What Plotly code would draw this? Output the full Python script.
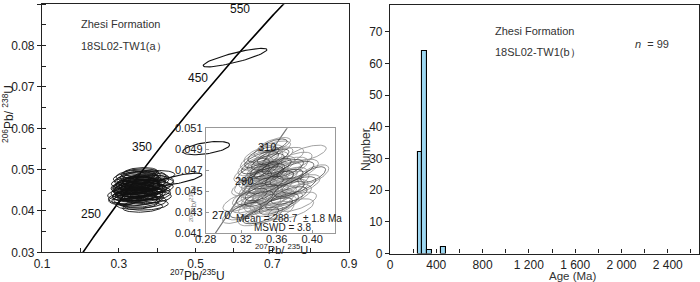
import numpy as np
import plotly.graph_objects as go

# ---------------- data ----------------
# U decay constants (1/yr) used for the concordia curve
L238 = 1.55125e-10
L235 = 9.8485e-10
concordia_ages_ma = np.arange(150, 620, 2)
main_age_labels = [250, 350, 450, 550]
inset_age_labels = [270, 290, 310]

# main cluster of analyses: 207Pb/235U, 206Pb/238U, half-widths
clu_x = [0.348, 0.353, 0.343, 0.359, 0.338, 0.364, 0.346, 0.355, 0.332, 0.369,
         0.350, 0.341, 0.360, 0.329, 0.374, 0.352, 0.345, 0.367, 0.325, 0.320,
         0.362, 0.371, 0.348, 0.381, 0.394, 0.385, 0.355, 0.336, 0.376, 0.342,
         0.357, 0.349, 0.339, 0.366, 0.353, 0.334, 0.378, 0.359, 0.346, 0.371,
         0.317, 0.401, 0.362, 0.350, 0.343, 0.360, 0.352, 0.383, 0.340, 0.367,
         0.356, 0.347, 0.363, 0.336, 0.374, 0.354, 0.345, 0.370, 0.329, 0.357]
clu_y = [0.0456, 0.0462, 0.0449, 0.0451, 0.0462, 0.0467, 0.0471, 0.0441, 0.0445, 0.0458,
         0.0478, 0.0437, 0.0474, 0.0455, 0.0446, 0.0430, 0.0485, 0.0482, 0.0432, 0.0440,
         0.0422, 0.0415, 0.0418, 0.0470, 0.0486, 0.0456, 0.0490, 0.0474, 0.0433, 0.0427,
         0.0459, 0.0465, 0.0453, 0.0440, 0.0448, 0.0468, 0.0478, 0.0436, 0.0460, 0.0463,
         0.0428, 0.0466, 0.0409, 0.0452, 0.0480, 0.0446, 0.0469, 0.0440, 0.0443, 0.0452,
         0.0483, 0.0440, 0.0462, 0.0458, 0.0452, 0.0423, 0.0467, 0.0472, 0.0438, 0.0494]
clu_sx = [0.058, 0.052, 0.055, 0.062, 0.049, 0.057, 0.047, 0.060, 0.052, 0.065,
          0.055, 0.057, 0.049, 0.047, 0.060, 0.065, 0.052, 0.056, 0.052, 0.049,
          0.062, 0.058, 0.055, 0.062, 0.052, 0.057, 0.049, 0.047, 0.061, 0.060,
          0.052, 0.057, 0.051, 0.055, 0.048, 0.053, 0.052, 0.056, 0.061, 0.055,
          0.043, 0.042, 0.052, 0.065, 0.057, 0.053, 0.051, 0.052, 0.048, 0.058,
          0.053, 0.056, 0.048, 0.056, 0.051, 0.053, 0.052, 0.060, 0.046, 0.044]
clu_sy = [0.0016, 0.0015, 0.0015, 0.0017, 0.0014, 0.0016, 0.0014, 0.0016, 0.0015, 0.0017,
          0.0015, 0.0015, 0.0014, 0.0014, 0.0016, 0.0016, 0.0014, 0.0015, 0.0014, 0.0014,
          0.0015, 0.0013, 0.0014, 0.0016, 0.0012, 0.0015, 0.0012, 0.0014, 0.0015, 0.0015,
          0.0015, 0.0016, 0.0014, 0.0015, 0.0014, 0.0015, 0.0014, 0.0015, 0.0017, 0.0015,
          0.0013, 0.0014, 0.0012, 0.0018, 0.0015, 0.0014, 0.0014, 0.0014, 0.0014, 0.0016,
          0.0014, 0.0015, 0.0014, 0.0016, 0.0014, 0.0014, 0.0015, 0.0016, 0.0013, 0.0011]
clu_rho = 0.2

# discordant / older analyses shown only in the main diagram
out_x = [0.458, 0.528, 0.603]
out_y = [0.0477, 0.0552, 0.0771]
out_sx = [0.059, 0.061, 0.083]
out_sy = [0.00145, 0.0016, 0.00225]
out_rho = [0.75, 0.5, 0.85]

# inset (mean-age population): analyses with 206Pb/238U above this value
inset_min_y = 0.0425
inset_kx, inset_ky, inset_rho = 0.42, 0.66, 0.62
mean_text = "Mean = 288.7  ± 1.8 Ma"
mswd_text = "MSWD = 3.8"

# histogram (Ma)
hist_bin_start = [240, 280, 320, 440]
hist_counts = [32, 64, 1, 2]
hist_bin_width = 40
age_tickvals = [0, 400, 800, 1200, 1600, 2000, 2400]
age_ticktext = ["0", "400", "800", "1 200", "1 600", "2 000", "2 400"]

# ---------------- helpers ----------------
FONT = "Liberation Sans, Arial, sans-serif"
W, H = 700, 282


def px(x):
    return x / W


def py(y):
    return 1 - y / H


def ellipses(xs, ys, sxs, sys_, rhos, kx=1.0, ky=1.0):
    th = np.linspace(0, 2 * np.pi, 72)
    X, Y = [], []
    for x, y, sx, sy, r in zip(xs, ys, sxs, sys_, rhos):
        X += list(x + kx * sx * np.cos(th)) + [None]
        Y += list(y + ky * sy * (r * np.cos(th) + np.sqrt(1 - r * r) * np.sin(th))) + [None]
    return X, Y


def conc(t_ma):
    t = np.asarray(t_ma, dtype=float) * 1e6
    return np.exp(L235 * t) - 1, np.exp(L238 * t) - 1


fig = go.Figure()

cx, cy = conc(concordia_ages_ma)
fig.add_trace(go.Scatter(x=cx, y=cy, mode="lines", line=dict(color="black", width=1.6),
                         xaxis="x", yaxis="y", hoverinfo="skip", showlegend=False))
n = len(clu_x)
X, Y = ellipses(clu_x, clu_y, clu_sx, clu_sy, [clu_rho] * n)
fig.add_trace(go.Scatter(x=X, y=Y, mode="lines", line=dict(color="#111", width=0.9),
                         xaxis="x", yaxis="y", hoverinfo="skip", showlegend=False))
X, Y = ellipses(out_x, out_y, out_sx, out_sy, out_rho)
fig.add_trace(go.Scatter(x=X, y=Y, mode="lines", line=dict(color="#111", width=1.1),
                         xaxis="x", yaxis="y", hoverinfo="skip", showlegend=False))

sel = [i for i in range(n) if clu_y[i] > inset_min_y]
ins_x = [clu_x[i] for i in sel]
ins_y = [clu_y[i] for i in sel]
ins_sx = [clu_sx[i] for i in sel]
ins_sy = [clu_sy[i] for i in sel]

fig.add_trace(go.Scatter(x=cx, y=cy, mode="lines", line=dict(color="#777", width=1.2),
                         xaxis="x3", yaxis="y3", hoverinfo="skip", showlegend=False))
X, Y = ellipses(ins_x, ins_y, ins_sx, ins_sy, [inset_rho] * len(sel), inset_kx, inset_ky)
fig.add_trace(go.Scatter(x=X, y=Y, mode="lines", line=dict(color="#8a8a8a", width=0.8),
                         xaxis="x3", yaxis="y3", hoverinfo="skip", showlegend=False))
X, Y = ellipses(ins_x[::2], ins_y[::2], ins_sx[::2], ins_sy[::2], [inset_rho] * len(ins_x[::2]),
                inset_kx * 0.8, inset_ky * 0.8)
fig.add_trace(go.Scatter(x=X, y=Y, mode="lines", line=dict(color="#333", width=0.7),
                         xaxis="x3", yaxis="y3", hoverinfo="skip", showlegend=False))

fig.add_trace(go.Bar(x=hist_bin_start, y=hist_counts, width=hist_bin_width, offset=0,
                     marker=dict(color="#9dd7f1", line=dict(color="black", width=1.1)),
                     xaxis="x2", yaxis="y2", hoverinfo="skip", showlegend=False))

tickfont = dict(family=FONT, size=12, color="#222")
axbase = dict(showgrid=False, zeroline=False, showline=True, linecolor="#222",
              linewidth=1.2, mirror=True, ticklen=4, tickcolor="#222",
              tickfont=tickfont, automargin=False)

fig.update_layout(
    template="none",
    width=W, height=H, margin=dict(l=0, r=0, t=0, b=0, autoexpand=False),
    paper_bgcolor="white", plot_bgcolor="rgba(0,0,0,0)",
    showlegend=False, bargap=0,
    xaxis=dict(axbase, ticks="inside", domain=[px(42), px(349)], range=[0.1, 0.9],
               tickvals=[0.1, 0.3, 0.5, 0.7, 0.9], ticktext=["0.1", "0.3", "0.5", "0.7", "0.9"],
               minor=dict(tickvals=[0.2, 0.4, 0.6, 0.8], ticks="inside", ticklen=4, tickcolor="#222"),
               anchor="y"),
    yaxis=dict(axbase, ticks="outside", domain=[py(252.3), py(4.3)], range=[0.03, 0.09],
               dtick=0.01, tickformat=".2f",
               minor=dict(dtick=0.005, ticks="inside", ticklen=4, tickcolor="#222"), anchor="x"),
    xaxis2=dict(axbase, ticks="inside", domain=[px(390), px(699)], range=[0, 2670],
                tickvals=age_tickvals, ticktext=age_ticktext,
                minor=dict(dtick=200, ticks="inside", ticklen=4, tickcolor="#222"), anchor="y2"),
    yaxis2=dict(axbase, ticks="outside", domain=[py(253.5), py(5)], range=[0, 78.4], dtick=10,
                anchor="x2"),
    xaxis3=dict(showgrid=False, zeroline=False, showline=True, linecolor="#999", linewidth=1,
                mirror=True, ticks="inside", ticklen=3, tickcolor="#999", automargin=False,
                tickfont=dict(family=FONT, size=11, color="#222"),
                domain=[px(205.7), px(335)], range=[0.28, 0.4257],
                tickvals=[0.28, 0.32, 0.36, 0.40], ticktext=["0.28", "0.32", "0.36", "0.40"],
                ticklabelstandoff=-5, anchor="y3"),
    yaxis3=dict(showgrid=False, zeroline=False, showline=True, linecolor="#999", linewidth=1,
                mirror=True, ticks="inside", ticklen=3, tickcolor="#999", automargin=False,
                tickfont=dict(family=FONT, size=11, color="#222"),
                domain=[py(233.3), py(128.3)], range=[0.041, 0.051],
                tickvals=[0.041, 0.043, 0.045, 0.047, 0.049, 0.051],
                ticktext=["0.041", "0.043", "0.045", "0.047", "0.049", "0.051"],
                anchor="x3"),
)

ann = []


def paper_text(text, x, y, size=11, color="#333", angle=0, xanchor="center"):
    ann.append(dict(text=text, x=px(x), y=py(y), xref="paper", yref="paper", showarrow=False,
                    xanchor=xanchor, yanchor="middle", textangle=angle,
                    font=dict(family=FONT, size=size, color=color)))


paper_text("Zhesi Formation", 79, 24, xanchor="left")
paper_text("18SL02-TW1(a）", 79, 46, xanchor="left")
paper_text("<sup>207</sup>Pb/<sup>235</sup>U", 197, 274.5, size=12, color="#222")
paper_text("<sup>206</sup>Pb/ <sup>238</sup>U", 8, 114, size=12, color="#222", angle=-90)
paper_text("Zhesi Formation", 493, 31, xanchor="left")
paper_text("18SL02-TW1(b）", 493, 52, xanchor="left")
paper_text("<i>n</i>  = 99", 633, 44, xanchor="left")
paper_text("Age (Ma)", 572, 275.5, size=11.5, color="#333")
paper_text("Number", 366, 150, size=12, color="#333", angle=-90)
paper_text("<sup>207</sup>Pb/ <sup>235</sup>U", 281, 249, size=11, color="#222")
paper_text("<sup>206</sup>Pb/<sup>238</sup>U", 193, 203, size=8, color="#777", angle=-90)
paper_text(mean_text, 289, 218, size=10, color="#222")
paper_text(mswd_text, 282, 228, size=10, color="#222")

mx, my = conc(main_age_labels)
main_shift = {250: -20, 350: -20, 450: -20, 550: -39}
for a, x, y in zip(main_age_labels, mx, my):
    ann.append(dict(text=str(a), x=x, y=y, xref="x", yref="y", showarrow=False,
                    xshift=main_shift[a], yshift=-1, font=dict(family=FONT, size=12, color="#111")))
ix, iy = conc(inset_age_labels)
for a, x, y in zip(inset_age_labels, ix, iy):
    ann.append(dict(text=str(a), x=x, y=y, xref="x3", yref="y3", showarrow=False,
                    xshift=-7, yshift=0, font=dict(family=FONT, size=11, color="#111")))

fig.update_layout(annotations=ann)
fig.write_html("out.html", config={"displayModeBar": False},
               post_script="document.body.style.margin='0';document.body.style.padding='0';")
